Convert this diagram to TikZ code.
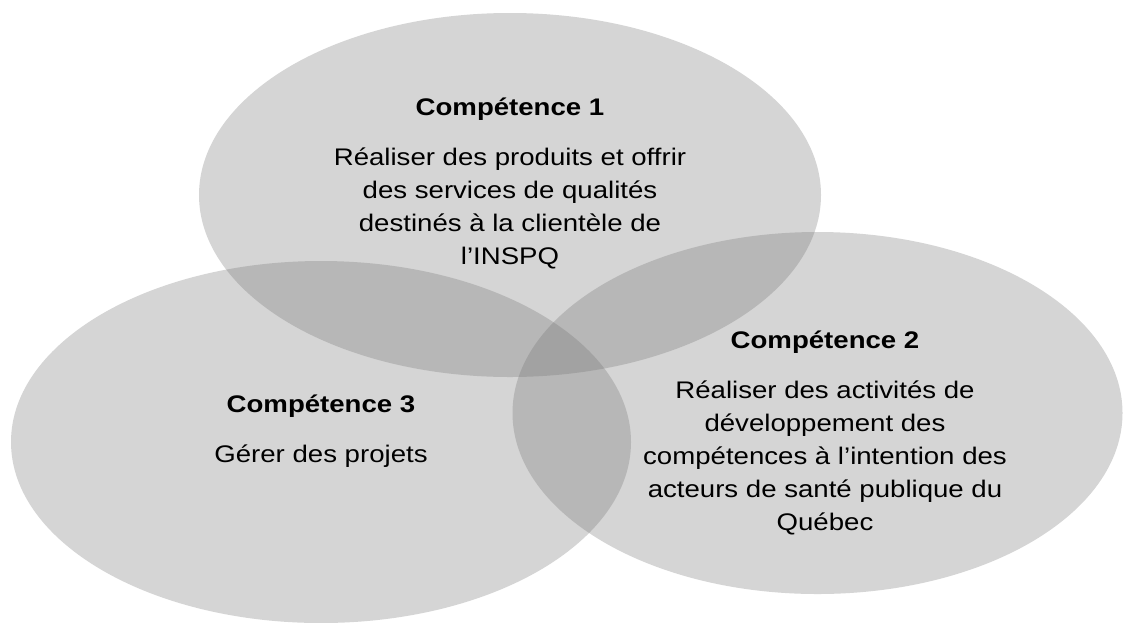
\documentclass[tikz,border=0pt]{standalone}
\usepackage{fontspec}
\setmainfont{Liberation Sans}[FakeStretch=1.15]
\definecolor{vennfill}{gray}{0.455}
\begin{document}
\begin{tikzpicture}[x=1pt,y=-1pt,
  venn/.style={fill=vennfill, fill opacity=0.3},
  title/.style={font=\fontsize{24}{33}\selectfont\bfseries, anchor=base, inner sep=0pt},
  body/.style={font=\fontsize{24}{33}\selectfont, align=center, anchor=north, inner sep=0pt}]
  % canvas
  \fill[white] (0,0) rectangle (1123,622);
  \useasboundingbox (0,0) rectangle (1123,622);
  % the three overlapping circles of competences
  \fill[venn] (510,195) ellipse [x radius=311pt, y radius=182pt];
  \fill[venn] (817.5,413) ellipse [x radius=305pt, y radius=181pt];
  \fill[venn] (321,442) ellipse [x radius=310pt, y radius=181pt];
  % labels
  \node[title] (t1) at (510,115) {Compétence 1};
  \node[body] (b1) at (510,145) {\rule{0pt}{20pt}Réaliser des produits et offrir\\des services de qualités\\destinés à la clientèle de\\l’INSPQ};
  \node[title] (t2) at (825,348) {Compétence 2};
  \node[body] (b2) at (825,378) {\rule{0pt}{20pt}Réaliser des activités de\\développement des\\compétences à l’intention des\\acteurs de santé publique du\\Québec};
  \node[title] (t3) at (321,412) {Compétence 3};
  \node[body] (b3) at (321,442) {\rule{0pt}{20pt}Gérer des projets};
\end{tikzpicture}
\end{document}
